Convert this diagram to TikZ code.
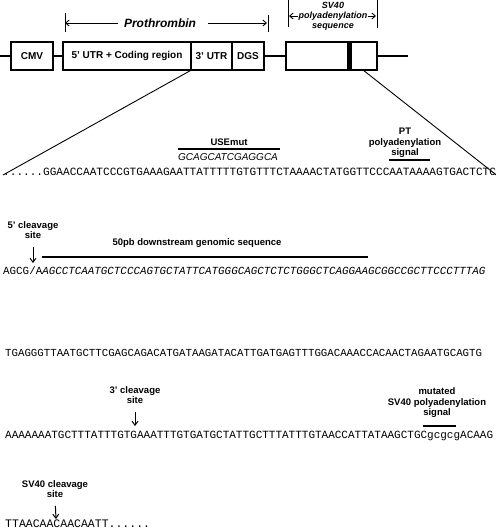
\documentclass[tikz,border=0pt]{standalone}
\usepackage{fontspec}
\setmainfont{Liberation Sans}
\newfontfamily\seqfont{Liberation Mono}
\usetikzlibrary{arrows.meta}
\newcommand\sqf[1]{\fontsize{#1}{#1}\seqfont}
\begin{document}
\begin{tikzpicture}[x=1pt,y=-1pt,
  box/.style={draw, line width=1.2pt, minimum height=28pt, inner sep=0pt, font=\bfseries\fontsize{10}{12}\selectfont},
  lab/.style={font=\bfseries\fontsize{9.5}{10.5}\selectfont, align=center, inner sep=0pt},
  bil/.style={font=\bfseries\itshape\fontsize{9}{10.5}\selectfont, inner sep=0pt},
  seq/.style={anchor=base west, inner sep=0pt},
  bar/.style={line width=2.8pt},
  line/.style={line width=1.2pt},
  thinl/.style={line width=0.9pt},
  cleave/.style={line width=1pt, -{Straight Barb[length=4pt,width=6pt]}},
  brk/.style={line width=0.9pt, -{Straight Barb[length=3.5pt,width=6pt]}},
]
\useasboundingbox (0,0) rectangle (496,531);

% construct
\node[box, minimum width=42pt] (cmv) at (32,56) {CMV};
\node[box, minimum width=128pt] (cds) at (127,56) {5' UTR + Coding region};
\node[box, minimum width=41pt] (u3) at (211.5,56) {3' UTR};
\node[box, minimum width=32pt] (dgs) at (248,56) {DGS};
\node[box, minimum width=91pt] (sv) at (331.5,56) {};
\node[fill, minimum width=5pt, minimum height=28pt, inner sep=0pt] (pa) at (349.5,56) {};
\coordinate (bl) at (0,56);
\coordinate (br) at (408,56);
\draw[line] (bl) -- (cmv);
\draw[line] (cmv) -- (cds);
\draw[line] (dgs) -- (sv);
\draw[line] (sv) -- (br);

% Prothrombin bracket
\node[font=\bfseries\itshape\fontsize{12}{14}\selectfont, inner sep=0pt] (pro) at (160,23) {Prothrombin};
\coordinate (pl) at (65,23);
\coordinate (pr) at (267,23);
\draw[brk, shorten <=6pt] (pro.west) -- (pl);
\draw[brk, shorten <=12pt] (pro.east) -- (pr);
\draw[thinl] (65,13) -- (65,32);
\draw[thinl] (268,15) -- (268,32);

% SV40 bracket
\node[bil] (sva) at (333,5) {SV40};
\node[bil] (svb) at (333,16) {polyadenylation};
\node[bil] (svc) at (333,27) {sequence};
\coordinate (sl) at (289,16);
\coordinate (sr) at (376,16);
\draw[brk, shorten <=1pt] (svb.west) -- (sl);
\draw[brk, shorten <=1pt] (svb.east) -- (sr);
\draw[thinl] (288,0) -- (288,27);
\draw[thinl] (377,0) -- (377,28);

% Row 1
\node[seq] (r1) at (3,175) {\sqf{11.1}......GGAACCAATCCCGTGAAAGAATTATTTTTGTGTTTCTAAAACTATGGTTCCCAATAAAAGTGACTCTC};
\coordinate (svz) at (363,70);
\draw[thinl] (u3.south west) -- (r1.base west);
\draw[thinl] (svz) -- (r1.base east);
\node[lab] (use) at (229,142) {USEmut};
\draw[bar] (178,149) -- (280,149);
\node[font=\itshape\fontsize{10}{12}\selectfont, inner sep=0pt] (usem) at (228,157) {GCAGCATCGAGGCA};
\node[lab] (pt) at (405,143) {PT\\polyadenylation\\signal};
\draw[bar] (389,160) -- (430,160);

% Row 2
\node[lab] (c5) at (33,230) {5' cleavage\\site};
\coordinate (c5t) at (33,263);
\draw[cleave, shorten <=8pt] (c5.south) -- (c5t);
\node[lab] (dn) at (197,243) {50pb downstream genomic sequence};
\draw[bar] (42,257) -- (368,257);
\node[seq] (r2) at (3,274) {\sqf{10.86}AGCG/A\itshape AGCCTCAATGCTCCCAGTGCTATTCATGGGCAGCTCTCTGGGCTCAGGAAGCGGCCGCTTCCCTTTAG};

% Row 3
\node[seq] (r3) at (5,356) {\sqf{10.74}TGAGGGTTAATGCTTCGAGCAGACATGATAAGATACATTGATGAGTTTGGACAAACCACAACTAGAATGCAGTG};

% Row 4
\node[lab] (c3) at (135,395) {3' cleavage\\site};
\coordinate (c3t) at (135,426);
\draw[cleave, shorten <=8pt] (c3.south) -- (c3t);
\node[lab] (mut) at (437,403) {mutated\\SV40 polyadenylation\\signal};
\draw[bar] (423,426) -- (456,426);
\node[seq] (r4) at (5,438) {\sqf{10.99}AAAAAAATGCTTTATTTGTGAAATTTGTGATGCTATTGCTTTATTTGTAACCATTATAAGCTGCgcgcgACAAG};

% Row 5
\node[lab] (c40) at (55,489) {SV40 cleavage\\site};
\coordinate (c40t) at (56,519);
\draw[cleave, shorten <=8pt] (c40.south) -- (c40t);
\node[seq] (r5) at (5,527.5) {\sqf{11.5}TTAACAACAACAATT......};
\end{tikzpicture}
\end{document}
